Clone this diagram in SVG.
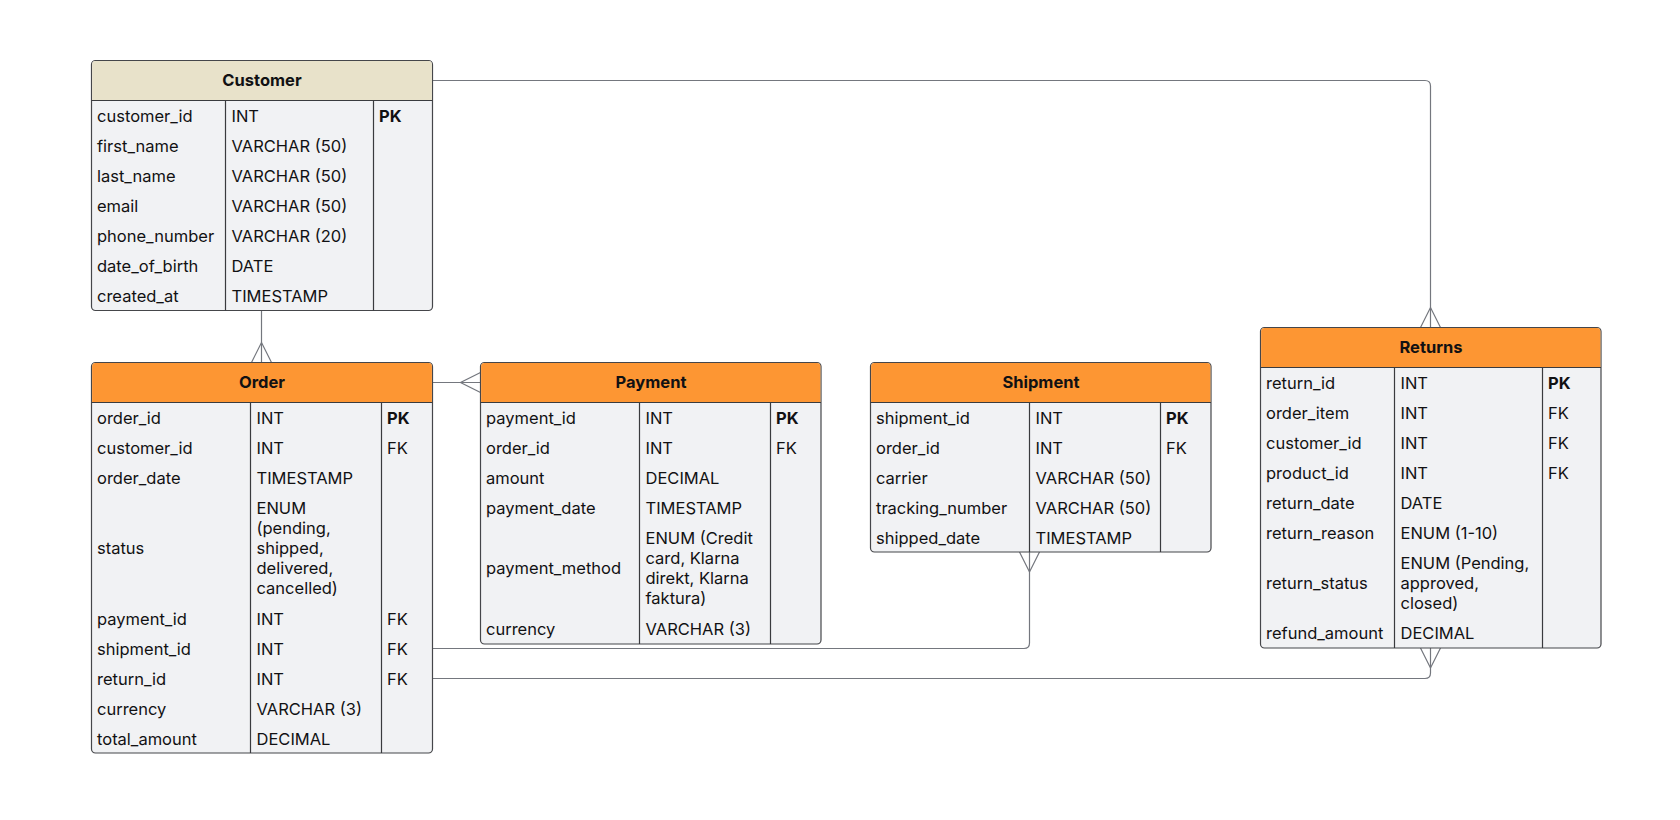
<svg xmlns="http://www.w3.org/2000/svg" width="1680" height="820" viewBox="0 0 1680 820">
<style>
.body{fill:#f1f2f4;stroke:#45464a;stroke-width:1.2}
.hdr{stroke:none}
.hc{fill:#e8e2ca}
.ho{fill:#fd9633}
.sep{stroke:#3a3b3e;stroke-width:1.2;fill:none}
.conn{stroke:#74777e;stroke-width:1.2;fill:none}
text{font-family:Inter,"Noto Sans","Liberation Sans",sans-serif;font-size:16.5px;fill:#111113}
.t{font-weight:700;text-anchor:middle}
.k{font-weight:700}
</style>
<rect width="1680" height="820" fill="#ffffff"/>

<g id="connectors">
  <path class="conn" d="M261.5 310.5 V362.5"/>
  <path class="conn" d="M251.5 362.5 L261.5 342.5 L271.5 362.5"/>
  <path class="conn" d="M432.5 80.5 H1425 Q1430.5 80.5 1430.5 86 V327.5"/>
  <path class="conn" d="M1420.5 327.5 L1430.5 307.5 L1440.5 327.5"/>
  <path class="conn" d="M432.5 382.5 H480.5"/>
  <path class="conn" d="M480.5 372.5 L460.5 382.5 L480.5 392.5"/>
  <path class="conn" d="M432.5 648.5 H1024 Q1029.5 648.5 1029.5 643 V552"/>
  <path class="conn" d="M1019.5 552 L1029.5 572 L1039.5 552"/>
  <path class="conn" d="M432.5 678.5 H1425 Q1430.5 678.5 1430.5 673 V648"/>
  <path class="conn" d="M1420.5 648 L1430.5 668 L1440.5 648"/>
</g>

<g id="customer">
  <rect class="body" x="91.5" y="60.5" width="341" height="250" rx="4"/>
  <path class="hdr hc" d="M92.1 100.5 V64.5 Q92.1 61.1 95.5 61.1 H428.5 Q431.9 61.1 431.9 64.5 V100.5 Z"/>
  <path class="sep" d="M91.5 100.5 H432.5 M225.5 100.5 V310.5 M373.5 100.5 V310.5"/>
  <text class="t" x="262" y="86">Customer</text>
  <text x="97" y="122">customer_id</text><text x="231.5" y="122">INT</text><text class="k" x="379" y="122">PK</text>
  <text x="97" y="152">first_name</text><text x="231.5" y="152">VARCHAR (50)</text>
  <text x="97" y="182">last_name</text><text x="231.5" y="182">VARCHAR (50)</text>
  <text x="97" y="212">email</text><text x="231.5" y="212">VARCHAR (50)</text>
  <text x="97" y="242">phone_number</text><text x="231.5" y="242">VARCHAR (20)</text>
  <text x="97" y="272">date_of_birth</text><text x="231.5" y="272">DATE</text>
  <text x="97" y="302">created_at</text><text x="231.5" y="302">TIMESTAMP</text>
</g>

<g id="order">
  <rect class="body" x="91.5" y="362.5" width="341" height="390.5" rx="4"/>
  <path class="hdr ho" d="M92.1 402.5 V366.5 Q92.1 363.1 95.5 363.1 H428.5 Q431.9 363.1 431.9 366.5 V402.5 Z"/>
  <path class="sep" d="M91.5 402.5 H432.5 M250.5 402.5 V753 M381.5 402.5 V753"/>
  <text class="t" x="262" y="388">Order</text>
  <text x="97" y="423.5">order_id</text><text x="256.5" y="423.5">INT</text><text class="k" x="387" y="423.5">PK</text>
  <text x="97" y="453.5">customer_id</text><text x="256.5" y="453.5">INT</text><text x="387" y="453.5">FK</text>
  <text x="97" y="483.5">order_date</text><text x="256.5" y="483.5">TIMESTAMP</text>
  <text x="97" y="554">status</text>
  <text x="256.5" y="514">ENUM</text>
  <text x="256.5" y="534">(pending,</text>
  <text x="256.5" y="554">shipped,</text>
  <text x="256.5" y="574">delivered,</text>
  <text x="256.5" y="594">cancelled)</text>
  <text x="97" y="624.5">payment_id</text><text x="256.5" y="624.5">INT</text><text x="387" y="624.5">FK</text>
  <text x="97" y="654.5">shipment_id</text><text x="256.5" y="654.5">INT</text><text x="387" y="654.5">FK</text>
  <text x="97" y="684.5">return_id</text><text x="256.5" y="684.5">INT</text><text x="387" y="684.5">FK</text>
  <text x="97" y="714.5">currency</text><text x="256.5" y="714.5">VARCHAR (3)</text>
  <text x="97" y="744.5">total_amount</text><text x="256.5" y="744.5">DECIMAL</text>
</g>

<g id="payment">
  <rect class="body" x="480.5" y="362.5" width="340.5" height="281.5" rx="4"/>
  <path class="hdr ho" d="M481.1 402.5 V366.5 Q481.1 363.1 484.5 363.1 H817 Q820.4 363.1 820.4 366.5 V402.5 Z"/>
  <path class="sep" d="M480.5 402.5 H821 M639.5 402.5 V644 M770.5 402.5 V644"/>
  <text class="t" x="651" y="388">Payment</text>
  <text x="486" y="424">payment_id</text><text x="645.5" y="424">INT</text><text class="k" x="776" y="424">PK</text>
  <text x="486" y="454">order_id</text><text x="645.5" y="454">INT</text><text x="776" y="454">FK</text>
  <text x="486" y="484">amount</text><text x="645.5" y="484">DECIMAL</text>
  <text x="486" y="514">payment_date</text><text x="645.5" y="514">TIMESTAMP</text>
  <text x="486" y="574">payment_method</text>
  <text x="645.5" y="544">ENUM (Credit</text>
  <text x="645.5" y="564">card, Klarna</text>
  <text x="645.5" y="584">direkt, Klarna</text>
  <text x="645.5" y="604">faktura)</text>
  <text x="486" y="635">currency</text><text x="645.5" y="635">VARCHAR (3)</text>
</g>

<g id="shipment">
  <rect class="body" x="870.5" y="362.5" width="340.5" height="189.5" rx="4"/>
  <path class="hdr ho" d="M871.1 402.5 V366.5 Q871.1 363.1 874.5 363.1 H1207 Q1210.4 363.1 1210.4 366.5 V402.5 Z"/>
  <path class="sep" d="M870.5 402.5 H1211 M1029.5 402.5 V552 M1160.5 402.5 V552"/>
  <text class="t" x="1041" y="388">Shipment</text>
  <text x="876" y="424">shipment_id</text><text x="1035.5" y="424">INT</text><text class="k" x="1166" y="424">PK</text>
  <text x="876" y="454">order_id</text><text x="1035.5" y="454">INT</text><text x="1166" y="454">FK</text>
  <text x="876" y="484">carrier</text><text x="1035.5" y="484">VARCHAR (50)</text>
  <text x="876" y="514">tracking_number</text><text x="1035.5" y="514">VARCHAR (50)</text>
  <text x="876" y="544">shipped_date</text><text x="1035.5" y="544">TIMESTAMP</text>
</g>

<g id="returns">
  <rect class="body" x="1260.5" y="327.5" width="340.5" height="320.5" rx="4"/>
  <path class="hdr ho" d="M1261.1 367.5 V331.5 Q1261.1 328.1 1264.5 328.1 H1597 Q1600.4 328.1 1600.4 331.5 V367.5 Z"/>
  <path class="sep" d="M1260.5 367.5 H1601 M1394.5 367.5 V648 M1542.5 367.5 V648"/>
  <text class="t" x="1431" y="353">Returns</text>
  <text x="1266" y="389">return_id</text><text x="1400.5" y="389">INT</text><text class="k" x="1548" y="389">PK</text>
  <text x="1266" y="419">order_item</text><text x="1400.5" y="419">INT</text><text x="1548" y="419">FK</text>
  <text x="1266" y="449">customer_id</text><text x="1400.5" y="449">INT</text><text x="1548" y="449">FK</text>
  <text x="1266" y="479">product_id</text><text x="1400.5" y="479">INT</text><text x="1548" y="479">FK</text>
  <text x="1266" y="509">return_date</text><text x="1400.5" y="509">DATE</text>
  <text x="1266" y="539">return_reason</text><text x="1400.5" y="539">ENUM (1-10)</text>
  <text x="1266" y="589">return_status</text>
  <text x="1400.5" y="569">ENUM (Pending,</text>
  <text x="1400.5" y="589">approved,</text>
  <text x="1400.5" y="609">closed)</text>
  <text x="1266" y="639">refund_amount</text><text x="1400.5" y="639">DECIMAL</text>
</g>
</svg>
